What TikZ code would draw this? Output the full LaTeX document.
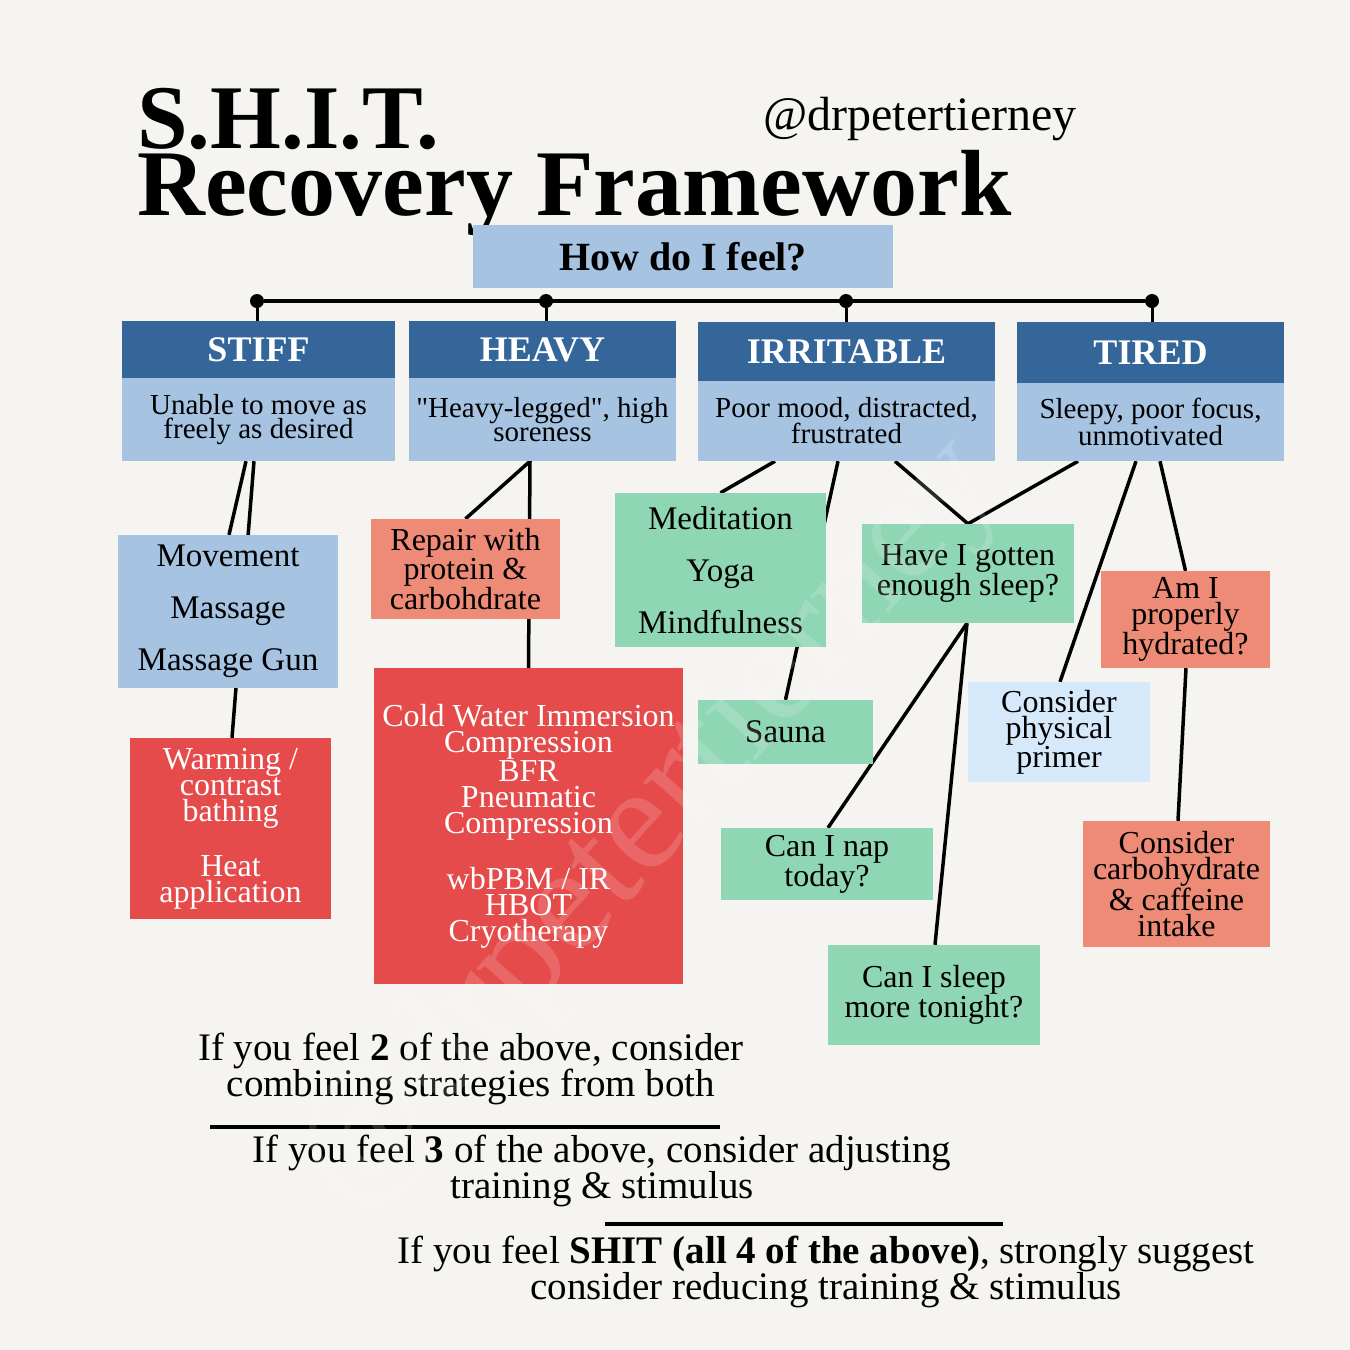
\documentclass[tikz,border=0pt]{standalone}
\usepackage{fontspec}
\setmainfont{Liberation Serif}[Ligatures=TeXOff]
\usetikzlibrary{positioning}

\pgfdeclarelayer{back}
\pgfdeclarelayer{wires}
\pgfsetlayers{back,wires,main}

\definecolor{paper}{RGB}{245,244,240}
\definecolor{skyblue}{RGB}{166,195,226}
\definecolor{navy}{RGB}{52,102,154}
\definecolor{tomato}{RGB}{230,75,75}
\definecolor{salmon}{RGB}{238,139,118}
\definecolor{mint}{RGB}{143,214,181}
\definecolor{paleblue}{RGB}{214,233,250}

\newcommand{\fsz}[2]{\fontsize{#1}{#2}\selectfont}

\begin{document}
\begin{tikzpicture}[x=1pt,y=-1pt,
  box/.style={inner sep=0pt,align=center,font=\fsz{32}{26}},
  head/.style={box,fill=navy,text=white,font=\bfseries\fsz{36}{36}},
  body/.style={box,fill=skyblue,font=\fsz{29}{24}},
  wire/.style={line width=3.5pt},
  dot/.style={circle,fill=black,inner sep=0pt,minimum size=14pt},
]
\useasboundingbox (0,0) rectangle (1350,1350);
\begin{pgfonlayer}{back}
\fill[paper] (0,0) rectangle (1350,1350);
\end{pgfonlayer}

%%% タイトル
\node[anchor=base west,inner sep=0pt,font=\bfseries\fsz{91}{91}] (title1) at (137,148) {S.H.I.T.};
\node[anchor=base west,inner sep=0pt,font=\bfseries\fsz{94}{94}] (title2) at (137,215) {Recovery Framework};
\node[anchor=base west,inner sep=0pt,font=\fsz{48}{48}] (handle) at (763,130) {@drpetertierney};

\node[box,fill=skyblue,minimum width=420pt,minimum height=63pt,font=\bfseries\fsz{40}{40}] (feel) at (683,256.5) {How do I feel?};

%%% 分岐
\node[dot] (dotS) at (257,301) {};
\node[dot] (dotH) at (546,301) {};
\node[dot] (dotI) at (846,301) {};
\node[dot] (dotT) at (1152,301) {};
\draw[line width=4pt] (dotS) -- (dotT);

%% カテゴリ
\node[head,minimum width=273pt,minimum height=57pt] (stiffHead) at (258.5,349.5) {STIFF};
\node[body,minimum width=273pt,minimum height=83pt] (stiffBody) at (258.5,419.5) {Unable to move as\\freely as desired};
\node[head,minimum width=267pt,minimum height=57pt] (heavyHead) at (542.5,349.5) {HEAVY};
\node[body,minimum width=267pt,minimum height=83pt] (heavyBody) at (542.5,419.5) {"Heavy-legged", high\\soreness};
\node[head,minimum width=297pt,minimum height=59pt] (irrHead) at (846.5,351.5) {IRRITABLE};
\node[body,minimum width=297pt,minimum height=80pt] (irrBody) at (846.5,421) {Poor mood, distracted,\\frustrated};
\node[head,minimum width=267pt,minimum height=61pt] (tiredHead) at (1150.5,352.5) {TIRED};
\node[body,minimum width=267pt,minimum height=78pt] (tiredBody) at (1150.5,422) {Sleepy, poor focus,\\unmotivated};

\draw[line width=3pt] (dotS) -- (dotS |- stiffHead.north);
\draw[line width=3pt] (dotH) -- (dotH |- heavyHead.north);
\draw[line width=3pt] (dotI) -- (dotI |- irrHead.north);
\draw[line width=3pt] (dotT) -- (dotT |- tiredHead.north);

%% STIFF
\node[box,fill=skyblue,minimum width=220pt,minimum height=153pt,font=\fsz{33}{52}] (move) at (228,611.5) {Movement\\Massage\\Massage Gun};
\node[box,fill=tomato,text=white,minimum width=201pt,minimum height=181pt] (warm) at (230.5,828.5) {Warming /\\contrast\\bathing\\[26pt]Heat\\application};

%% HEAVY
\node[box,fill=salmon,minimum width=189pt,minimum height=100pt] (repair) at (465.5,569) {Repair with\\protein \&\\carbohdrate};
\node[box,fill=tomato,text=white,minimum width=309pt,minimum height=316pt] (cold) at (528.5,826) {Cold Water Immersion\\Compression\\BFR\\Pneumatic\\Compression\\[26pt]wbPBM / IR\\HBOT\\Cryotherapy};

%% IRRITABLE
\node[box,fill=mint,minimum width=211pt,minimum height=154pt,font=\fsz{33}{52}] (medit) at (720.5,570) {Meditation\\Yoga\\Mindfulness};
\node[box,fill=mint,minimum width=175pt,minimum height=64pt,font=\fsz{33}{26}] (sauna) at (785.5,732) {Sauna};
\node[box,fill=mint,minimum width=212pt,minimum height=99pt] (sleepQ) at (968,573.5) {Have I gotten\\enough sleep?};
\node[box,fill=mint,minimum width=212pt,minimum height=72pt] (nap) at (827,864) {Can I nap\\today?};
\node[box,fill=mint,minimum width=212pt,minimum height=100pt] (sleepMore) at (934,995) {Can I sleep\\more tonight?};

%% TIRED
\node[box,fill=paleblue,minimum width=182pt,minimum height=100pt] (primer) at (1059,732) {Consider\\physical\\primer};
\node[box,fill=salmon,minimum width=169pt,minimum height=97pt] (hydrate) at (1185.5,619.5) {Am I\\properly\\hydrated?};
\node[box,fill=salmon,minimum width=187pt,minimum height=126pt] (carb) at (1176.5,884) {Consider\\carbohydrate\\\& caffeine\\intake};

%% 線
\begin{pgfonlayer}{wires}
\draw[wire] ([xshift=-12.5pt]stiffBody.south) -- ([xshift=1pt]move.north);
\draw[wire] ([xshift=-4.5pt]stiffBody.south) -- ([xshift=1.5pt]warm.north);
\draw[wire] ([xshift=-12.5pt]heavyBody.south) -- (repair.north);
\draw[wire] ([xshift=-12.5pt]heavyBody.south) -- (cold.north);
\draw[wire] ([xshift=-71.5pt]irrBody.south) -- (medit.north);
\draw[wire] ([xshift=-8.5pt]irrBody.south) -- (sauna.north);
\draw[wire] ([xshift=48.5pt]irrBody.south) -- (sleepQ.north);
\draw[wire] ([xshift=-72.5pt]tiredBody.south) -- (sleepQ.north);
\draw[wire] ([xshift=-1pt]sleepQ.south) -- ([xshift=1pt]nap.north);
\draw[wire] ([xshift=-1pt]sleepQ.south) -- ([xshift=1pt]sleepMore.north);
\draw[wire] ([xshift=-14.5pt]tiredBody.south) -- ([xshift=1pt]primer.north);
\draw[wire] ([xshift=9.5pt]tiredBody.south) -- (hydrate.north);
\draw[wire] ([xshift=0.5pt]hydrate.south) -- ([xshift=1.5pt]carb.north);
\end{pgfonlayer}

%% 結論
\node[box,font=\fsz{39}{32}] (two) at (471,1069) {If you feel \textbf{2} of the above, consider\\combining strategies from both};
\draw[line width=4pt] (210,1127) -- (720,1127);
\node[box,font=\fsz{39}{32}] (three) at (602,1171) {If you feel \textbf{3} of the above, consider adjusting\\training \& stimulus};
\draw[line width=4pt] (605,1224) -- (1003,1224);
\node[box,font=\fsz{39}{32}] (four) at (826,1272) {If you feel \textbf{SHIT (all 4 of the above)}, strongly suggest\\consider reducing training \& stimulus};

%% 透かし
\node[inner sep=0pt,rotate=48,text=white,opacity=0.16,font=\fsz{150}{150}] (mark) at (650,825) {@drpetertierney};

\end{tikzpicture}
\end{document}
